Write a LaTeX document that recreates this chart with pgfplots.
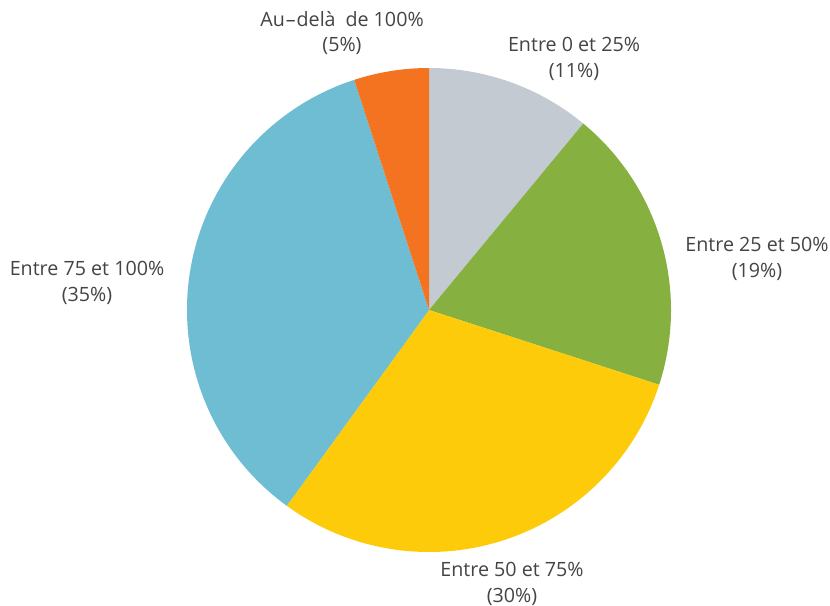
\documentclass[border=0pt]{standalone}
\usepackage{pgfplots}
\pgfplotsset{compat=1.18}
\usepackage{fontspec}
\setmainfont{Open Sans}
\definecolor{pgray}{HTML}{C3CAD1}
\definecolor{pgreen}{HTML}{86B140}
\definecolor{pyellow}{HTML}{FDCB0A}
\definecolor{pblue}{HTML}{6EBDD2}
\definecolor{porange}{HTML}{F37321}
\definecolor{txt}{HTML}{444444}
\begin{document}
\begin{tikzpicture}
\begin{axis}[
  scale only axis, width=24.9cm, height=18.12cm,
  xmin=0, xmax=830, ymin=0, ymax=604,
  hide axis, clip=false,
]
\path (axis cs:0,0) rectangle (axis cs:830,604);
% slices (percent): 11, 19, 30, 35, 5 ; clockwise from top
\fill[pgray]   (axis cs:429,294) -- ++(90:7.26cm) arc[start angle=90, end angle={90-3.6*11}, radius=7.26cm] -- cycle;
\fill[pgreen]  (axis cs:429,294) -- ++({90-3.6*11}:7.26cm) arc[start angle={90-3.6*11}, end angle={90-3.6*30}, radius=7.26cm] -- cycle;
\fill[pyellow] (axis cs:429,294) -- ++({90-3.6*30}:7.26cm) arc[start angle={90-3.6*30}, end angle={90-3.6*60}, radius=7.26cm] -- cycle;
\fill[pblue]   (axis cs:429,294) -- ++({90-3.6*60}:7.26cm) arc[start angle={90-3.6*60}, end angle={90-3.6*95}, radius=7.26cm] -- cycle;
\fill[porange] (axis cs:429,294) -- ++({90-3.6*95}:7.26cm) arc[start angle={90-3.6*95}, end angle={90-3.6*100}, radius=7.26cm] -- cycle;
\begin{scope}[every node/.style={text=txt, font=\fontsize{16.8}{22}\selectfont, align=center, inner sep=0pt}]
\node at (axis cs:342,571) {Au\kern0.05em–\kern0.05em delà\hspace{0.5em}de 100\%\\(5\%)};
\node at (axis cs:574,545) {Entre 0 et 25\%\\(11\%)};
\node at (axis cs:757,345) {Entre 25 et 50\%\\(19\%)};
\node at (axis cs:87,321) {Entre 75 et 100\%\\(35\%)};
\node at (axis cs:512,20) {Entre 50 et 75\%\\(30\%)};
\end{scope}
\end{axis}
\end{tikzpicture}
\end{document}
